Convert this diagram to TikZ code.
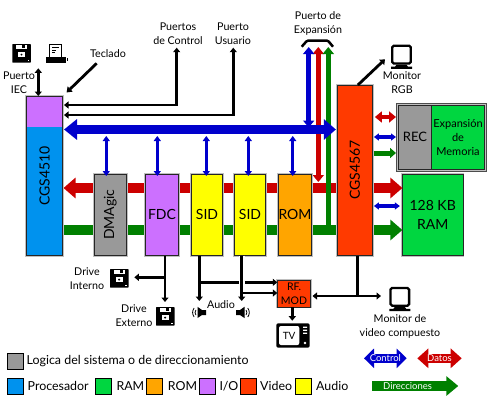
\documentclass[tikz,border=0pt]{standalone}
\usepackage{fontspec}
\setmainfont{Lato}
\usepackage{xcolor}
\usetikzlibrary{arrows.meta,positioning,fit,backgrounds}
\definecolor{cpublue}{RGB}{0,146,238}
\definecolor{iopurple}{RGB}{204,112,255}
\definecolor{sysgray}{RGB}{153,153,153}
\definecolor{ramgreen}{RGB}{0,214,64}
\definecolor{romorange}{RGB}{255,165,0}
\definecolor{videored}{RGB}{255,58,0}
\definecolor{sidyellow}{RGB}{255,255,0}
\definecolor{ctrlblue}{RGB}{0,0,204}
\definecolor{datared}{RGB}{204,0,0}
\definecolor{addrgreen}{RGB}{0,128,0}
\tikzset{
    pics/floppy/.style={code={
        \fill[black, rounded corners=0.6pt] (0,0) rectangle (18.5,18.7);
        \fill[white] (3.5,0.6) rectangle (15,4.6);
        \fill[black] (9.5,0.6) rectangle (12.5,4);
        \fill[white] (6,8) rectangle (12.5,13.2);
        \fill[black] (9.2,10.6) circle (1.1);
        \fill[white] (15.4,15.6) rectangle (17,17.4);
    }},
    pics/printer/.style={code={
        \draw[black, line width=0.9pt, fill=white] (3.5,0.5) rectangle (15.5,13);
        \draw[black, line width=0.8pt] (6,3.5) -- (12.5,3.5) (6,6) -- (10,6) (6,8.5) -- (8.5,8.5);
        \fill[black] (0,13) rectangle (20,19);
        \fill[black] (20.5,13.5) rectangle (22.3,16.5);
    }},
    pics/screen/.style={code={
        \draw[black, line width=2.3pt, fill=white, rounded corners=1.6pt] (1.2,1.2) rectangle (19.8,19);
        \fill[black] (5.5,20.2) -- (15.5,20.2) -- (17,22.2) -- (21,22.2) -- (21,24.4) -- (0,24.4) -- (0,22.2) -- (4,22.2) -- cycle;
    }},
    pics/speakerl/.style={code={
        \fill[black] (9.5,4) rectangle (13.5,9) (9.5,4) -- (5,0.8) -- (5,12) -- (9.5,9) -- cycle;
        \draw[black, line width=0.8pt] (3.4,4) .. controls (2.2,5.5) and (2.2,7.5) .. (3.4,9) (1.6,2) .. controls (-0.4,5) and (-0.4,8) .. (1.6,11);
    }},
    pics/speakerr/.style={code={
        \fill[black] (0,4) rectangle (4,9) (4,4) -- (8.5,0.8) -- (8.5,12) -- (4,9) -- cycle;
        \draw[black, line width=0.8pt] (10,4) .. controls (11.2,5.5) and (11.2,7.5) .. (10,9) (11.8,2) .. controls (13.8,5) and (13.8,8) .. (11.8,11);
    }},
    pics/tvset/.style={code={
        \fill[black, rounded corners=2pt] (0,0) rectangle (33.4,24.4);
        \fill[white, rounded corners=2pt] (2.7,2.7) rectangle (23,21.7);
        \fill[white] (26.7,3.3) rectangle (30.7,4.5) (26.7,6.3) rectangle (30.7,7.5) (26.7,9.3) rectangle (30.7,10.5);
        \fill[white] (28.7,19.6) circle (1.4);
        \node[font=\fontsize{10}{12}\selectfont, inner sep=0pt] (tvname) at (12.8,12.2) {TV};
    }}
}
\begin{document}
\begin{tikzpicture}[
    x=1pt, y=-1pt,
    block/.style={draw=black!85, line width=0.9pt, fill=#1, outer sep=0pt, inner sep=0pt,
        align=center, font=\fontsize{14}{19}\selectfont,
        preaction={draw=black!25, line width=2.4pt}},
    lbl/.style={align=center, inner sep=0pt, font=\fontsize{10.7}{14}\selectfont},
    keybox/.style={draw=black, line width=0.9pt, fill=#1, minimum width=16pt, minimum height=16pt, inner sep=0pt, outer sep=0pt},
    keytext/.style={inner sep=0pt, font=\fontsize{12.4}{15}\selectfont},
    wire/.style={draw=black, line width=2.8pt},
    wirearr/.style={wire, {Triangle[length=4.5pt,width=7pt]}-{Triangle[length=4.5pt,width=7pt]}},
    wireto/.style={wire, -{Triangle[length=4.5pt,width=7pt]}},
    busctrl/.style={ctrlblue, line width=9.5pt, {Triangle[length=13pt,width=20pt]}-{Triangle[length=12pt,width=20pt]}},
    busdata/.style={datared, line width=10pt, -{Triangle[length=12pt,width=20pt]}},
    busaddr/.style={addrgreen, line width=10pt, -{Triangle[length=12pt,width=20pt]}},
    linkctrl/.style={ctrlblue, line width=3.2pt, {Triangle[length=5pt,width=7pt]}-{Triangle[length=5pt,width=7pt]}},
    thinctrl/.style={ctrlblue, line width=5.5pt, {Triangle[length=7pt,width=11pt]}-{Triangle[length=7pt,width=11pt]}},
    thindata/.style={datared, line width=5.5pt, {Triangle[length=7pt,width=11pt]}-{Triangle[length=7pt,width=11pt]}},
    thinaddr/.style={addrgreen, line width=5.5pt, -{Triangle[length=7pt,width=11pt]}},
    keyname/.style={text=white, inner sep=0pt, font=\fontsize{9.5}{11}\selectfont}
]
\useasboundingbox (0,0) rectangle (500,400);
\node[block=cpublue, minimum width=36pt, minimum height=159.5pt,
    path picture={\fill[iopurple] (path picture bounding box.north west) rectangle ++(36,31);}] (cpu) at (44.5,175.75) {\rotatebox{90}{CGS4510}};
\node[block=sysgray, minimum width=32.5pt, minimum height=81.5pt, right=31.5pt of cpu.south east, anchor=south west] (dma) {\rotatebox{90}{DMAgic}};
\node[block=iopurple, minimum width=33pt, minimum height=81.5pt, right=19pt of dma.south east, anchor=south west] (fdc) {FDC};
\node[block=sidyellow, minimum width=31pt, minimum height=81.5pt, right=13pt of fdc.south east, anchor=south west] (sida) {SID};
\node[block=sidyellow, minimum width=31pt, minimum height=81.5pt, right=12pt of sida.south east, anchor=south west] (sidb) {SID};
\node[block=romorange, minimum width=32.5pt, minimum height=81.5pt, right=13pt of sidb.south east, anchor=south west] (rom) {ROM};
\node[block=videored, minimum width=35pt, minimum height=170.5pt, right=26pt of rom.south east, anchor=south west] (vic) {\rotatebox{90}{CGS4567}};
\node[block=ramgreen, minimum width=60.6pt, minimum height=81.5pt, right=30pt of vic.south east, anchor=south west] (ram) {128 KB\\RAM};
\node[block=sysgray, minimum width=33.4pt, minimum height=64pt, font=\fontsize{13}{15}\selectfont, preaction={draw=none}] (rec) at (415,137.3) {REC};
\node[block=ramgreen, minimum width=52.6pt, minimum height=64pt, right=0pt of rec, font=\fontsize{11}{14}\selectfont, preaction={draw=none}] (expmem) {Expansión\\de\\Memoria};
\node[fit=(rec)(expmem), draw=black!70, line width=1pt, inner sep=1.8pt] (expframe) {};
\node[block=videored, minimum width=33.4pt, minimum height=27.3pt, font=\fontsize{10.5}{14}\selectfont] (rfmod) at (294,293.6) {RF.\\MOD};

\coordinate (ctrlrow) at (0,129.5);
\coordinate (datarow) at (0,188);
\coordinate (addrrow) at (0,230);
\coordinate (sloty) at (0,136);
\coordinate (ctrltop) at (308.7,47);
\coordinate (datatop) at (318.3,47);
\coordinate (databot) at (318.3,182);
\coordinate (addrbot) at (328.3,230);
\coordinate (addrtop) at (328.3,47);
\begin{scope}[on background layer]
\draw[busdata, shorten >=1pt] (vic.west |- datarow) -- (cpu.east |- datarow);
\draw[thindata] (datatop) -- (databot);
\draw[busaddr, -, shorten <=1pt, shorten >=1pt] (cpu.east |- addrrow) -- (vic.west |- addrrow);
\draw[thinaddr] (addrbot) -- (addrtop);
\draw[thinctrl, shorten >=2pt] (ctrltop) -- (ctrltop |- ctrlrow);
\draw[busctrl, shorten <=1.5pt, shorten >=1.5pt] (cpu.east |- ctrlrow) -- (vic.west |- ctrlrow);
\end{scope}
\draw[busdata, shorten <=1.5pt] (vic.east |- datarow) -- (ram.west |- datarow);
\draw[busaddr, shorten <=1.5pt] (vic.east |- addrrow) -- (ram.west |- addrrow);
\draw[linkctrl, shorten <=1.5pt, shorten >=2.5pt] (vic.east |- 0,206) -- (ram.west |- 0,206);
\draw[datared, line width=4pt, {Triangle[length=7pt,width=11pt]}-{Triangle[length=7pt,width=11pt]}, shorten <=2.5pt] (vic.east |- 0,117) -- (expframe.west |- 0,117);
\draw[linkctrl, shorten <=1.5pt] (vic.east |- 0,137) -- (expframe.west |- 0,137);
\draw[addrgreen, line width=5pt, -{Triangle[length=6pt,width=10pt]}, shorten <=1.5pt] (vic.east |- 0,153) -- (expframe.west |- 0,153);
\draw[linkctrl] ([xshift=-4pt]dma.north |- sloty) -- ([xshift=-4pt,yshift=-2pt]dma.north);
\draw[linkctrl] ([xshift=-4.7pt]fdc.north |- sloty) -- ([xshift=-4.7pt,yshift=-2pt]fdc.north);
\draw[linkctrl] ([xshift=-0.7pt]sida.north |- sloty) -- ([xshift=-0.7pt,yshift=-2pt]sida.north);
\draw[linkctrl] ([xshift=-1.7pt]sidb.north |- sloty) -- ([xshift=-1.7pt,yshift=-2pt]sidb.north);
\draw[linkctrl] ([xshift=-2.2pt]rom.north |- sloty) -- ([xshift=-2.2pt,yshift=-2pt]rom.north);

\pic (diskiec) at (12.3,44) {floppy};
\pic (printer) at (46,44) {printer};
\pic (diskint) at (110,269) {floppy};
\pic (diskext) at (156,307) {floppy};
\pic (monrgb) at (391,44.5) {screen};
\pic (moncomp) at (389.3,286.7) {screen};
\pic (spka) at (192.5,306) {speakerl};
\pic (spkb) at (236,306) {speakerr};
\pic (tv) at (276.3,323.3) {tvset};

\coordinate (iectop) at (38.3,68.3);
\coordinate (keyhead) at (96.7,63.3);
\coordinate (keytail) at (65.5,93.5);
\coordinate (ctlport) at (176.7,47.7);
\coordinate (usrport) at (233.3,47.7);
\coordinate (rgbend) at (385,59.3);
\coordinate (intend) at (134.3,277.3);
\coordinate (extend) at (165,302);
\coordinate (fdcjoin) at (165,277.3);
\coordinate (spkaend) at (199.3,301);
\coordinate (spkbend) at (241.7,301);
\coordinate (compend) at (381,296);
\coordinate (rfin) at (312.5,296);
\coordinate (tvend) at (292.3,320.7);
\draw[wirearr] (iectop) -- (iectop |- cpu.north);
\draw[wire, {Triangle[length=5pt,width=7pt]}-, shorten <=1.5pt] (keytail) -- (keyhead);
\draw[wirearr, shorten >=1.5pt] (ctlport) |- (cpu.east |- 0,105);
\draw[wirearr, shorten >=1.5pt] (usrport) |- (cpu.east |- 0,115);
\draw[wireto] ([xshift=3pt]vic.north) -- (rgbend);
\draw[wireto] (fdc.south -| extend) -- (extend);
\draw[wireto] (fdcjoin) -- (intend);
\draw[wireto] (sida.south -| spkaend) -- (spkaend);
\draw[wireto] (spkaend |- 0,282.3) -- (rfmod.west |- 0,282.3);
\draw[wireto, preaction={draw=white, line width=6pt, -}] (sidb.south -| spkbend) -- (spkbend);
\draw[wireto] (spkbend |- 0,293) -- (rfmod.west |- 0,293);
\draw[wire] ([xshift=3pt]vic.south) -- ([xshift=3pt]vic.south |- 0,296);
\draw[wirearr] (rfin) -- (compend);
\draw[wireto, shorten >=0pt] (rfmod.south -| tvend) -- (tvend);

\draw[black, line width=2.5pt, rounded corners=1pt] (301.7,46.7) -- (307,40.7) -- (328,40.7) -- (333,46.7);

\node[lbl] (lblctl) at (178,34) {Puertos\\de Control};
\node[lbl] (lblusr) at (233,34) {Puerto\\Usuario};
\node[lbl] (lblkey) at (108,54) {Teclado};
\node[lbl] (lbliec) at (19,83) {Puerto\\IEC};
\node[lbl] (lblexp) at (318,23) {Puerto de\\Expansión};
\node[lbl] (lblrgb) at (402,83) {Monitor\\RGB};
\node[lbl] (lblint) at (87,278.5) {Drive\\Interno};
\node[lbl] (lblext) at (134,316) {Drive\\Externo};
\node[lbl] (lblaud) at (221,305) {Audio};
\node[lbl] (lblcomp) at (400,326) {Monitor de\\video compuesto};

\node[keybox=sysgray] (keylogic) at (15.5,361.3) {};
\node[keytext, right=3pt of keylogic] (txtlogic) {Logica del sistema o de direccionamiento};
\node[keybox=cpublue] (keycpu) at (15.5,386.3) {};
\node[keytext, right=4pt of keycpu] (txtcpu) {Procesador};
\node[keybox=ramgreen] (keyram) at (103.3,386.3) {};
\node[keytext, right=5pt of keyram] (txtram) {RAM};
\node[keybox=romorange] (keyrom) at (154,386.3) {};
\node[keytext, right=5.7pt of keyrom] (txtrom) {ROM};
\node[keybox=iopurple] (keyio) at (207.3,386.3) {};
\node[keytext, right=4pt of keyio] (txtio) {I/O};
\node[keybox=videored] (keyvid) at (248.5,386.3) {};
\node[keytext, right=3.5pt of keyvid] (txtvid) {Video};
\node[keybox=sidyellow] (keyaud) at (303.3,386.3) {};
\node[keytext, right=4.7pt of keyaud] (txtaud) {Audio};

\coordinate (ctrlkeyl) at (364,358.3);
\coordinate (ctrlkeyr) at (406.7,358.3);
\coordinate (datakeyl) at (417.3,358.3);
\coordinate (datakeyr) at (461.7,358.3);
\coordinate (addrkeyl) at (372.3,386);
\coordinate (addrkeyr) at (458.3,386);
\draw[ctrlblue, line width=9pt, {Triangle[length=10pt,width=19pt]}-{Triangle[length=10pt,width=19pt]}] (ctrlkeyl) -- node[keyname] (txtctrl) {Control} (ctrlkeyr);
\draw[datared, line width=9pt, {Triangle[length=11pt,width=19pt]}-{Triangle[length=11pt,width=19pt]}] (datakeyl) -- node[keyname] (txtdata) {Datos} (datakeyr);
\draw[addrgreen, line width=10pt, -{Triangle[length=12pt,width=19pt]}] (addrkeyl) -- node[keyname, pos=0.41] (txtaddr) {Direcciones} (addrkeyr);
\end{tikzpicture}
\end{document}
